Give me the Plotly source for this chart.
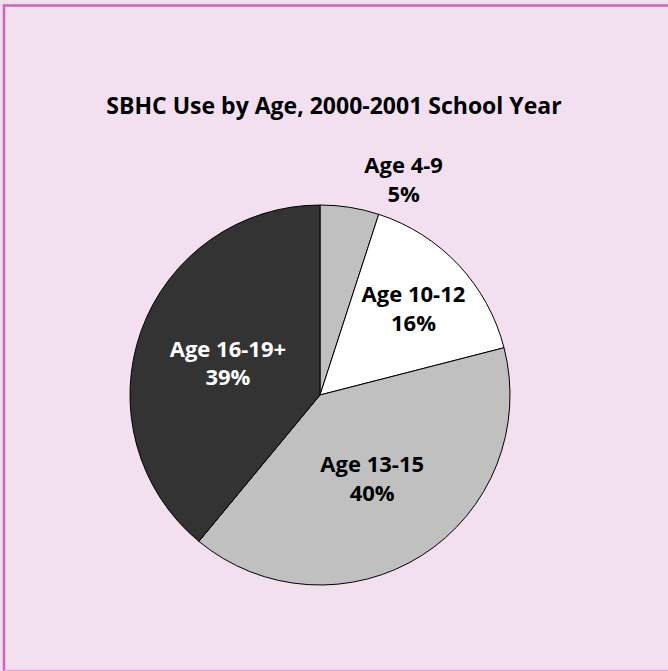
import plotly.graph_objects as go

labels = ["Age 4-9", "Age 10-12", "Age 13-15", "Age 16-19+"]
values = [5, 16, 40, 39]
colors = ["#C0C0C0", "#FFFFFF", "#C0C0C0", "#333333"]
text_colors = ["#000000", "#000000", "#000000", "#FFFFFF"]
text_positions = ["outside", "inside", "inside", "inside"]
title_text = "SBHC Use by Age, 2000-2001 School Year"

W, H = 668, 671
cx, cy, r = 320, 395, 190
border = "#CC66BB"

fig = go.Figure(go.Pie(
    labels=labels,
    values=values,
    sort=False,
    direction="clockwise",
    rotation=0,
    marker=dict(colors=colors, line=dict(color="#000000", width=1)),
    texttemplate="<b>%{label}<br>%{value}%</b>",
    textposition=text_positions,
    insidetextorientation="horizontal",
    textfont=dict(family="Open Sans", size=22, color=text_colors),
    hoverinfo="label+value",
    showlegend=False,
    domain=dict(x=[(cx - r) / W, (cx + r) / W], y=[1 - (cy + r) / H, 1 - (cy - r) / H]),
))

fig.update_layout(
    width=W, height=H,
    margin=dict(l=0, r=0, t=0, b=0),
    paper_bgcolor="#F2E0F0",
    plot_bgcolor="#F2E0F0",
    title=dict(text="<b>" + title_text + "</b>", x=334 / W, xanchor="center",
               y=1 - 106 / H, yanchor="middle",
               font=dict(family="Open Sans", size=23, color="#000000")),
    shapes=[
        dict(type="line", xref="paper", yref="paper", x0=4 / W, x1=4 / W, y0=0, y1=1 - 4.5 / H,
             line=dict(color=border, width=2.5)),
        dict(type="line", xref="paper", yref="paper", x0=3 / W, x1=1, y0=1 - 5.5 / H, y1=1 - 5.5 / H,
             line=dict(color=border, width=2.5)),
        dict(type="line", xref="paper", yref="paper", x0=4 / W, x1=1, y0=0.5 / H, y1=0.5 / H,
             line=dict(color="#E0A8D8", width=1.5)),
    ],
)

fig.write_html("out.html",
               config={"displayModeBar": False},
               post_script="document.body.style.margin='0';document.body.style.overflow='hidden';")
